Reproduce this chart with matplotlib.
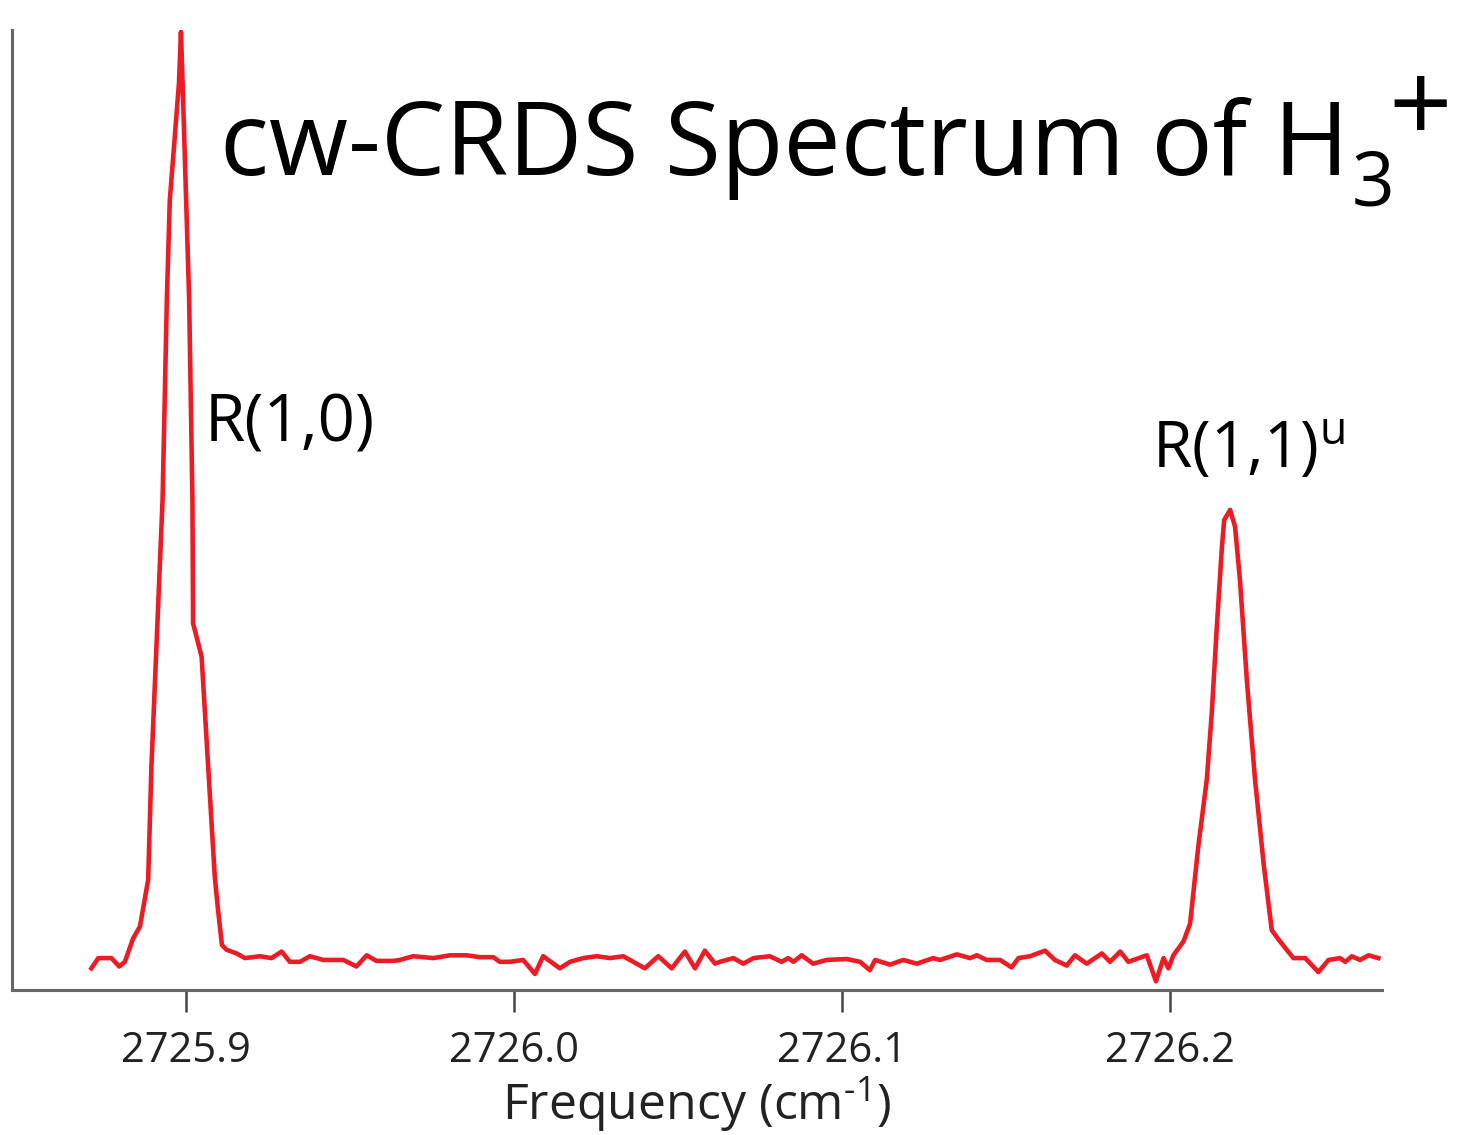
import numpy as np
import matplotlib
matplotlib.use("Agg")
import matplotlib.pyplot as plt

plt.rcParams['font.family'] = ['Open Sans', 'DejaVu Sans']
plt.rcParams['mathtext.fontset'] = 'custom'
plt.rcParams['mathtext.rm'] = 'Open Sans'
plt.rcParams['mathtext.default'] = 'regular'

# frequenza (cm^-1) e intensita normalizzata
frequenza = [
    2725.8712, 2725.8733, 2725.8773, 2725.8797, 2725.8814, 2725.8839, 2725.8860,
    2725.8885, 2725.8895, 2725.8916, 2725.8929, 2725.8942, 2725.8951, 2725.8979,
    2725.8985, 2725.8990, 2725.9010, 2725.9020, 2725.9022, 2725.9048, 2725.9088,
    2725.9098, 2725.9110, 2725.9124, 2725.9155, 2725.9180, 2725.9226, 2725.9261,
    2725.9292, 2725.9317, 2725.9348, 2725.9378, 2725.9419, 2725.9480, 2725.9520,
    2725.9551, 2725.9581, 2725.9632, 2725.9652, 2725.9693, 2725.9754, 2725.9805,
    2725.9856, 2725.9896, 2725.9937, 2725.9957, 2725.9988, 2726.0028, 2726.0064,
    2726.0089, 2726.0140, 2726.0171, 2726.0211, 2726.0252, 2726.0293, 2726.0333,
    2726.0364, 2726.0399, 2726.0440, 2726.0481, 2726.0521, 2726.0552, 2726.0582,
    2726.0613, 2726.0628, 2726.0669, 2726.0699, 2726.0730, 2726.0780, 2726.0816,
    2726.0836, 2726.0852, 2726.0877, 2726.0912, 2726.0953, 2726.1014, 2726.1055,
    2726.1085, 2726.1101, 2726.1146, 2726.1187, 2726.1228, 2726.1278, 2726.1299,
    2726.1350, 2726.1390, 2726.1411, 2726.1441, 2726.1482, 2726.1517, 2726.1538,
    2726.1573, 2726.1619, 2726.1649, 2726.1685, 2726.1710, 2726.1746, 2726.1792,
    2726.1817, 2726.1848, 2726.1873, 2726.1929, 2726.1957, 2726.1980, 2726.1995,
    2726.2010, 2726.2041, 2726.2061, 2726.2086, 2726.2112, 2726.2127, 2726.2142,
    2726.2158, 2726.2165, 2726.2183, 2726.2198, 2726.2213, 2726.2234, 2726.2259,
    2726.2285, 2726.2310, 2726.2335, 2726.2376, 2726.2412, 2726.2452, 2726.2483,
    2726.2518, 2726.2534, 2726.2554, 2726.2579, 2726.2605, 2726.2635,
]
intensita = [
    -0.009, 0.002, 0.002, -0.007, -0.002, 0.023, 0.036,
    0.086, 0.208, 0.387, 0.495, 0.710, 0.817, 0.943,
    0.998, 0.943, 0.710, 0.495, 0.362, 0.326, 0.090,
    0.054, 0.016, 0.011, 0.007, 0.002, 0.004, 0.002,
    0.009, -0.002, -0.002, 0.004, 0.000, 0.000, -0.007,
    0.005, -0.001, -0.001, 0.000, 0.004, 0.002, 0.005,
    0.005, 0.003, 0.003, -0.002, -0.002, 0.000, -0.015,
    0.004, -0.009, -0.002, 0.002, 0.004, 0.002, 0.004,
    -0.002, -0.009, 0.004, -0.009, 0.009, -0.009, 0.010,
    -0.004, -0.002, 0.002, -0.004, 0.002, 0.004, -0.002,
    0.002, -0.002, 0.005, -0.004, 0.000, 0.001, -0.002,
    -0.011, 0.000, -0.005, 0.000, -0.004, 0.002, 0.000,
    0.006, 0.002, 0.005, 0.000, 0.000, -0.008, 0.002,
    0.004, 0.010, 0.000, -0.006, 0.005, -0.004, 0.007,
    -0.002, 0.009, -0.002, 0.005, -0.023, 0.002, -0.009,
    0.005, 0.020, 0.039, 0.122, 0.194, 0.265, 0.355,
    0.444, 0.473, 0.484, 0.466, 0.409, 0.301, 0.194,
    0.104, 0.032, 0.020, 0.002, 0.002, -0.013, 0.000,
    0.002, -0.002, 0.004, 0.000, 0.005, 0.002,
]
tickFreq = [2725.9, 2726.0, 2726.1, 2726.2]
tickLabels = ["2725.9", "2726.0", "2726.1", "2726.2"]

W, H = 1457, 1135
fig = plt.figure(figsize=(W / 100, H / 100), dpi=100)
ax = fig.add_axes([12 / W, 1 - 990 / H, 1370 / W, 960 / H])

ax.plot(frequenza, intensita, color="#ec1c24", linewidth=3.3, solid_joinstyle="round")
ax.set_xlim(2725.8470, 2726.2646)
ax.set_ylim(-0.0323, 1.0)

for s in ["top", "right"]:
    ax.spines[s].set_visible(False)
for s in ["left", "bottom"]:
    ax.spines[s].set_color("#666666")
    ax.spines[s].set_linewidth(2.2)

ax.set_yticks([])
ax.set_xticks(tickFreq)
ax.set_xticklabels(tickLabels, fontsize=30, color="#222222")
ax.tick_params(axis="x", direction="out", length=15.5, width=1.8, color="#444444", pad=13)
ax.set_xlabel(r"Frequency (cm$^{\text{-1}}$)", fontsize=36, color="#222222", labelpad=2)

# titolo costruito a pezzi: testo, pedice 3, apice +
renderer = fig.canvas.get_renderer()
titolo = fig.text(220 / W, 1 - 175 / H, "cw-CRDS Spectrum of H",
                  fontsize=73.5, va="baseline", ha="left", color="black")
bb = titolo.get_window_extent(renderer)
pedice = fig.text((bb.x1 + 3) / W, 1 - 205 / H, "3", fontsize=54,
                  va="baseline", ha="left", color="black")
bb3 = pedice.get_window_extent(renderer)
fig.text((bb3.x1 - 6) / W, 1 - 143 / H, "+", fontsize=80,
         va="baseline", ha="left", color="black")

fig.text(205 / W, 1 - 441 / H, "R(1,0)", fontsize=47, va="baseline", ha="left")
fig.text(1152 / W, 1 - 468 / H, r"R(1,1)$^{u}$", fontsize=46, va="baseline", ha="left")

fig.savefig("out.png", dpi=100)
